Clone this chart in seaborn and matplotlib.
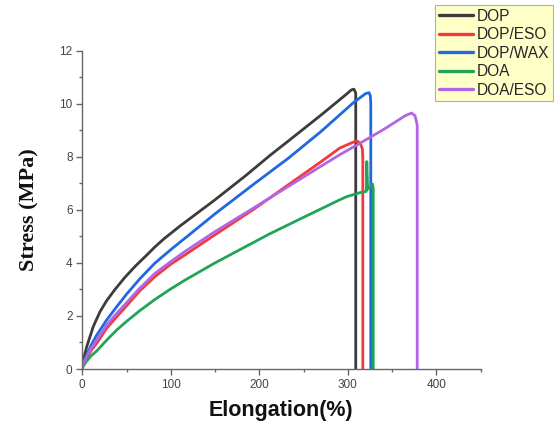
import matplotlib
matplotlib.use("Agg")
import matplotlib.pyplot as plt
from matplotlib.ticker import MultipleLocator
import pandas as pd
import seaborn as sns

# Stress-strain curves (elongation %, stress MPa), each ending with the break drop
dop_x = [0, 1.2, 5, 12.4, 20, 27.6, 37, 48, 60, 73, 82, 92, 110, 130, 150, 185, 212, 233, 270, 297, 304, 307, 309, 309]
dop_y = [0, 0.34, 0.84, 1.6, 2.16, 2.58, 3.0, 3.45, 3.88, 4.3, 4.6, 4.9, 5.38, 5.88, 6.38, 7.3, 8.05, 8.6, 9.58, 10.32, 10.52, 10.55, 10.4, 0]

dop_eso_x = [0, 1.2, 5, 10, 16.3, 27.6, 38.9, 50, 65, 82, 100, 116, 150, 195, 233, 270, 291, 306, 310, 314, 316.5, 317, 317]
dop_eso_y = [0, 0.17, 0.4, 0.7, 0.97, 1.54, 1.97, 2.38, 2.95, 3.48, 3.95, 4.3, 5.06, 6.05, 6.95, 7.82, 8.33, 8.55, 8.6, 8.52, 8.3, 8.0, 0]

dop_wax_x = [0, 1.2, 5, 10, 16.3, 27.6, 38.9, 50, 65, 82, 100, 116, 150, 195, 233, 270, 306, 320, 324, 325.5, 326, 326]
dop_wax_y = [0, 0.22, 0.53, 0.9, 1.28, 1.85, 2.35, 2.82, 3.4, 3.99, 4.5, 4.93, 5.85, 7.0, 7.95, 8.96, 10.03, 10.38, 10.42, 10.3, 10.0, 0]

doa_x = [0, 1.2, 5, 10, 16.3, 27.6, 38.9, 50.2, 65, 82, 100, 116, 150, 212, 244, 291, 299, 314, 321, 321.5, 322.5, 327, 328, 328.8, 328.8]
doa_y = [0, 0.12, 0.3, 0.5, 0.68, 1.09, 1.47, 1.8, 2.2, 2.62, 3.02, 3.35, 4.0, 5.1, 5.62, 6.38, 6.5, 6.65, 6.7, 7.82, 6.78, 6.9, 6.97, 6.8, 0]

doa_eso_x = [0, 1.2, 5, 10, 16.3, 27.6, 38.9, 50, 65, 82, 100, 116, 150, 195, 223, 270, 291, 308, 340, 365, 372, 376, 378.5, 378.5]
doa_eso_y = [0, 0.2, 0.47, 0.78, 1.09, 1.66, 2.1, 2.5, 3.05, 3.6, 4.05, 4.43, 5.18, 6.1, 6.68, 7.65, 8.08, 8.4, 9.02, 9.55, 9.65, 9.55, 9.2, 0]

labels = ["DOP", "DOP/ESO", "DOP/WAX", "DOA", "DOA/ESO"]
colors = ["#3c3c3c", "#f23a3a", "#1f68e0", "#22a458", "#b266e6"]

series = [(dop_x, dop_y), (dop_eso_x, dop_eso_y), (dop_wax_x, dop_wax_y),
          (doa_x, doa_y), (doa_eso_x, doa_eso_y)]
frames = []
for name, (xs, ys) in zip(labels, series):
    frames.append(pd.DataFrame({"Elongation": xs, "Stress": ys, "Sample": name}))
df = pd.concat(frames, ignore_index=True)

sns.set_style("ticks")
plt.rcParams["font.family"] = ["Liberation Sans", "DejaVu Sans"]

fig = plt.figure(figsize=(5.56, 4.23), dpi=100)
ax = fig.add_axes([82.3 / 556, 1 - 369 / 423, (480.5 - 82.3) / 556, (369 - 50.7) / 423])

sns.lineplot(data=df, x="Elongation", y="Stress", hue="Sample", hue_order=labels,
             palette=colors, estimator=None, sort=False, linewidth=2.0, ax=ax,
             legend=True)

ax.set_xlim(0, 450)
ax.set_ylim(0, 12)
ax.xaxis.set_major_locator(MultipleLocator(100))
ax.xaxis.set_minor_locator(MultipleLocator(50))
ax.yaxis.set_major_locator(MultipleLocator(2))
ax.yaxis.set_minor_locator(MultipleLocator(1))

for side in ["top", "right"]:
    ax.spines[side].set_visible(False)
for side in ["left", "bottom"]:
    ax.spines[side].set_color("#666666")
    ax.spines[side].set_linewidth(1.0)

ax.tick_params(axis="both", which="major", direction="out", length=4, width=1.0,
               color="#666666", labelsize=8.5, labelcolor="#444444", pad=3)
ax.tick_params(axis="both", which="minor", direction="out", length=2.5, width=1.0,
               color="#666666")

ax.set_xlabel("Elongation(%)", fontsize=15.5, fontweight="bold",
              family=["Liberation Sans", "DejaVu Sans"], labelpad=7, color="#111111")
ax.set_ylabel("Stress (MPa)", fontsize=16, fontweight="bold",
              family=["Liberation Serif", "DejaVu Serif"], labelpad=14, color="#111111")

handles, lbls = ax.get_legend_handles_labels()
for h in handles:
    h.set_linewidth(2.4)
leg = ax.legend(handles, lbls, loc="upper left",
                bbox_to_anchor=(435 / 556, 1 - 5 / 423), bbox_transform=fig.transFigure,
                borderaxespad=0, frameon=True, fancybox=False,
                facecolor="#ffffc8", edgecolor="#b0b0b0", framealpha=1,
                fontsize=11.2, handlelength=2.2, handletextpad=0.25,
                labelspacing=0.22, borderpad=0.25)
leg.get_frame().set_linewidth(0.8)

fig.savefig("out.png", dpi=100)
